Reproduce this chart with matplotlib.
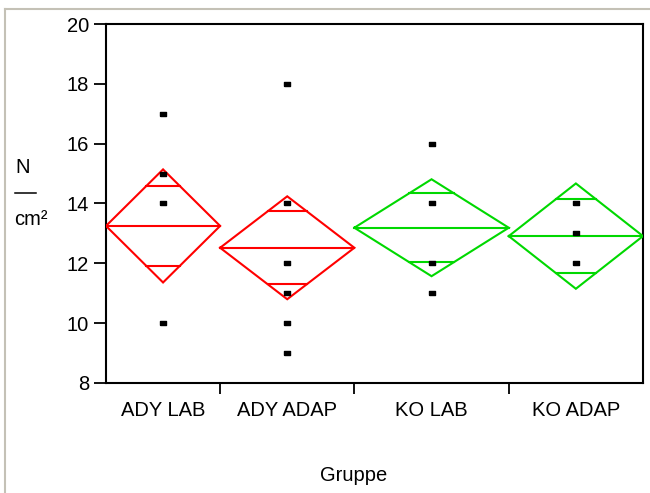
import numpy as np
import matplotlib
matplotlib.use("Agg")
import matplotlib.pyplot as plt
from matplotlib.lines import Line2D

plt.rcParams['font.family'] = ['Liberation Sans', 'DejaVu Sans']

# Groups, relative group sizes (column widths) and observations
groups = ["ADY LAB", "ADY ADAP", "KO LAB", "KO ADAP"]
group_n = [17, 20, 23, 20]
obs_ady_lab = [17, 15, 14, 10]
obs_ady_adap = [18, 14, 12, 11, 10, 9]
obs_ko_lab = [16, 14, 12, 11]
obs_ko_adap = [14, 13, 12]
observations = [obs_ady_lab, obs_ady_adap, obs_ko_lab, obs_ko_adap]

# Group means and 95% confidence half-widths (means diamonds)
means = [13.25, 12.52, 13.19, 12.91]
ci_half = [1.89, 1.72, 1.62, 1.76]
colors = ["#ff0000", "#ff0000", "#00d800", "#00d800"]

y_ticks = [8, 10, 12, 14, 16, 18, 20]

W, H = 650, 493
fig = plt.figure(figsize=(W / 100, H / 100), dpi=100)
ax = fig.add_axes([106 / W, 1 - 383 / H, 537 / W, 359 / H])

edges = np.concatenate([[0], np.cumsum(group_n)])
centers = (edges[:-1] + edges[1:]) / 2

box = [(-1, -0.6), (1, -0.6), (1, 0.6), (-1, 0.6), (-1, -0.6)]

for i in range(len(groups)):
    left, right, c = edges[i], edges[i + 1], centers[i]
    m, h = means[i], ci_half[i]
    col = colors[i]
    # diamond
    ax.plot([left, c, right, c, left], [m, m + h, m, m - h, m],
            color=col, lw=1.5, solid_joinstyle='miter', zorder=3)
    # mean line
    ax.plot([left, right], [m, m], color=col, lw=1.5, zorder=3)
    # overlap marks
    half_w = (right - left) / 2
    frac = 1 - 1 / np.sqrt(2)
    for s in (1, -1):
        ax.plot([c - half_w * frac, c + half_w * frac],
                [m + s * h / np.sqrt(2)] * 2, color=col, lw=1.5, zorder=3)
    # observations
    ax.plot([c] * len(observations[i]), observations[i], linestyle='none',
            marker=box, markersize=4.5, color='black', zorder=4)

ax.set_xlim(edges[0], edges[-1])
ax.set_ylim(8, 20)
ax.set_yticks(y_ticks)
ax.set_yticklabels([str(t) for t in y_ticks])
ax.set_xticks(edges[1:-1])
ax.set_xticklabels([])
ax.set_xticks(centers, minor=True)
ax.set_xticklabels(groups, minor=True)

ax.tick_params(axis='y', direction='out', length=8.6, width=1.3,
               labelsize=14.5, pad=3.5)
ax.tick_params(axis='x', which='major', direction='out', length=8, width=1.3)
ax.tick_params(axis='x', which='minor', length=0, labelsize=14.5, pad=13)
for sp in ax.spines.values():
    sp.set_linewidth(1.5)
    sp.set_color('black')

# y-axis unit label N / cm²
fig.text(15 / W, 1 - 173 / H, "N", fontsize=14.5, ha='left', va='baseline')
fig.add_artist(Line2D([15 / W, 36 / W], [1 - 193 / H, 1 - 193 / H],
                      transform=fig.transFigure, color='black', lw=1.1))
fig.text(14 / W, 1 - 225 / H, "cm²", fontsize=14.5, ha='left', va='baseline')

fig.text(354 / W, 1 - 481 / H, "Gruppe", fontsize=14.5, ha='center',
         va='baseline')

# outer frame
frame_col = '#c4c1b6'
fig.add_artist(Line2D([4.5 / W, 1], [1 - 9 / H, 1 - 9 / H],
                      transform=fig.transFigure, color=frame_col, lw=1.5))
fig.add_artist(Line2D([4.5 / W, 4.5 / W], [0, 1 - 9 / H],
                      transform=fig.transFigure, color=frame_col, lw=1.5))

fig.savefig("out.png", dpi=100)
